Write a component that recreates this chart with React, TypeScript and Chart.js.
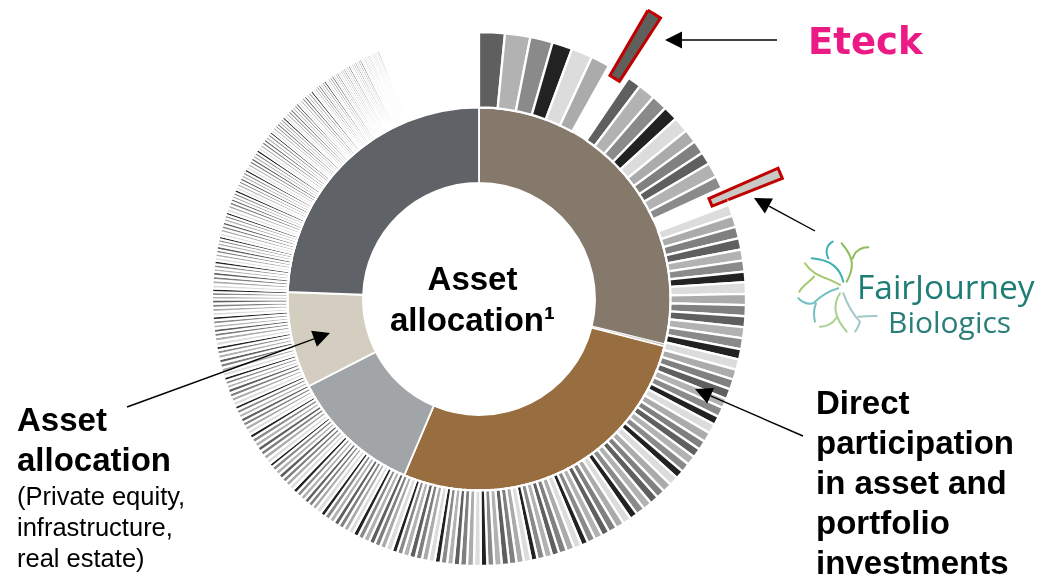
import React, { useEffect, useRef } from "react";
import { Chart, registerables } from "chart.js";

Chart.register(...registerables);

// Inner ring: asset classes, in degrees of the circle.
const assetClasses = ["Direct", "Other", "Income", "Credit", "Private assets", "Listed"];
const assetShares = [103.7, 0.6, 98.7, 39.9, 29.2, 87.9];
const assetColors = ["#85796c", "#a9a196", "#986d3f", "#a2a5a7", "#d3cec0", "#5f6267"];

// Outer ring: individual holdings, largest first, in degrees of the circle.
const holdingsBeforeEteck = [5.6, 5.5, 4.9, 4.4, 4.6, 4.1];
const eteckShare = 4.8;
const eteckMargin = 0.1;
const holdingsBeforeFairJourney = [3.0, 3.7, 3.5, 3.2, 3.4, 3.0, 2.9, 2.7, 3.2, 2.7];
const fairJourneyShare = 3.9;
const holdingsAfterFairJourney = [
  2.5, 2.5, 2.5, 2.5, 2.4, 2.4, 2.3,
  2.5, 2.4, 2.4, 2.4, 2.4, 2.4, 2.2,
  2.3, 2.2, 2.2, 2.2, 2.1, 2.1, 1.9,
  2.1, 2.1, 2.0, 2.0, 2.0, 2.0, 1.8,
  2.0, 2.0, 1.9, 1.9, 1.9, 1.9, 1.7,
  1.8, 1.8, 1.8, 1.7, 1.7, 1.7, 1.5,
  1.7, 1.7, 1.7, 1.6, 1.6, 1.6, 1.4,
  1.6, 1.6, 1.6, 1.6, 1.6, 1.5, 1.4,
  1.5, 1.5, 1.5, 1.4, 1.4, 1.4, 1.3,
  1.4, 1.4, 1.4, 1.4, 1.4, 1.3, 1.2,
  1.4, 1.3, 1.3, 1.3, 1.3, 1.3, 1.2,
  1.2, 1.2, 1.2, 1.2, 1.2, 1.2, 1.1,
  1.2, 1.1, 1.1, 1.1, 1.1, 1.1, 1.1,
  1.1, 1.1, 1.1, 1.1, 1.1, 1.1, 0.9,
  1.1, 1.1, 1.1, 1.1, 1.1, 1.1, 1.0,
  1.0, 1.0, 1.0, 1.0, 1.0, 1.0, 0.9,
  1.0, 1.0, 1.0, 1.0, 0.9, 0.9, 0.9,
  1.0, 1.0, 1.0, 1.0, 1.0, 0.9, 0.9,
  1.0, 1.0, 0.9, 0.9, 0.9, 0.9, 0.9,
  0.9, 0.9, 0.9, 0.9, 0.8, 0.8, 0.8,
  0.9, 0.9, 0.9, 0.9, 0.8, 0.8, 0.8,
  0.8, 0.8, 0.8, 0.8, 0.8, 0.7, 0.7,
  0.8, 0.8, 0.8, 0.8, 0.8, 0.7, 0.7,
  0.8, 0.8, 0.8, 0.7, 0.7, 0.7, 0.7,
  0.7, 0.7, 0.7, 0.7, 0.7, 0.7, 0.7,
  0.7, 0.7, 0.7, 0.7, 0.7, 0.7, 0.7,
  0.7, 0.7, 0.7, 0.7, 0.7, 0.7, 0.6,
  0.6, 0.6, 0.6, 0.6, 0.6, 0.6, 0.6,
  0.6, 0.6, 0.6, 0.6, 0.6, 0.6, 0.5,
  0.6, 0.6, 0.6, 0.6, 0.6, 0.6, 0.6,
  0.5, 0.5, 0.5, 0.5, 0.5, 0.5, 0.5,
  0.5, 0.5, 0.5, 0.5, 0.4, 0.4, 0.4,
  0.5, 0.4, 0.4, 0.4, 0.4, 0.4, 0.4,
  0.4, 0.4, 0.4, 0.4, 0.4, 0.4, 0.4,
  0.3, 0.3, 0.3, 0.3, 0.3, 0.3, 0.3,
  0.3, 0.3, 0.3, 0.3, 0.3, 0.3, 0.3,
];

const holdingGreys = ["#5f5f5f", "#b2b2b2", "#8a8a8a", "#222222", "#dcdcdc", "#ababab", "#808080"];
const eteckColor = "#5f5f5c";
const fairJourneyColor = "#c8c8c4";
const calloutBorder = "#c00000";
const CLEAR = "rgba(0,0,0,0)";

type Slice = { value: number; color: string; offset: number; callout: boolean };

function buildHoldings(): Slice[] {
  const out: Slice[] = [];
  let n = 0;
  const plain = (value: number) => {
    out.push({ value, color: holdingGreys[n % 7], offset: 0, callout: false });
    n += 1;
  };
  const blank = (value: number) => out.push({ value, color: CLEAR, offset: 0, callout: false });
  const callout = (value: number, color: string, offset: number) => {
    out.push({ value, color, offset, callout: true });
    n += 1;
  };
  holdingsBeforeEteck.forEach(plain);
  blank(eteckMargin);
  callout(eteckShare, eteckColor, 141);
  blank(eteckMargin);
  holdingsBeforeFairJourney.forEach(plain);
  callout(fairJourneyShare, fairJourneyColor, 123);
  holdingsAfterFairJourney.forEach(plain);
  // The many tiny positions that close the circle are too small to show.
  blank(360 - out.reduce((s, d) => s + d.value, 0));
  return out;
}

// White separators narrow along with the slices so that the thinnest still show.
const separatorWidth = (share: number) => Math.min(2.3, 0.6 + 1.9 * share);

const FONT = '"Liberation Sans", Arial, sans-serif';

function DonutChart() {
  const ref = useRef<HTMLCanvasElement>(null);
  useEffect(() => {
    const slices = buildHoldings();
    const chart = new Chart(ref.current!, {
      type: "doughnut",
      data: {
        labels: slices.map((_, i) => String(i)),
        datasets: [
          {
            data: slices.map((s) => s.value),
            backgroundColor: slices.map((s) => s.color),
            borderColor: slices.map((s) => (s.callout ? calloutBorder : "#ffffff")),
            borderWidth: slices.map((s) => (s.callout ? 3 : s.color === CLEAR ? 0 : separatorWidth(s.value))),
            offset: slices.map((s) => s.offset),
            hoverOffset: 0,
            borderJoinStyle: "miter",
            clip: false,
          },
          {
            data: assetShares,
            backgroundColor: assetColors,
            borderColor: "#ffffff",
            borderWidth: assetShares.map((v) => (v < 1 ? 0.7 : 1.8)),
            hoverOffset: 0,
            clip: false,
          },
        ],
      } as any,
      options: {
        responsive: false,
        animation: false,
        events: [],
        radius: 267,
        cutout: "43.45%",
        layout: { padding: { left: 213, right: 296, top: 33, bottom: 12 } },
        plugins: { legend: { display: false }, tooltip: { enabled: false } },
      } as any,
    });
    return () => chart.destroy();
  }, []);
  return <canvas ref={ref} width={1041} height={577} style={{ position: "absolute", left: 0, top: 0 }} />;
}

function Arrow({ x1, y1, x2, y2 }: { x1: number; y1: number; x2: number; y2: number }) {
  const a = Math.atan2(y2 - y1, x2 - x1);
  const L = 17;
  const W = 8.5;
  const bx = x2 - L * Math.cos(a);
  const by = y2 - L * Math.sin(a);
  const px = -Math.sin(a) * W;
  const py = Math.cos(a) * W;
  return (
    <g>
      <line x1={x1} y1={y1} x2={bx} y2={by} stroke="#000" strokeWidth={1.4} />
      <polygon points={`${x2},${y2} ${bx + px},${by + py} ${bx - px},${by - py}`} fill="#000" />
    </g>
  );
}

function Label({ left, top, width, size, line, bold, align, color, family, children, spacing }: any) {
  return (
    <div
      style={{
        position: "absolute", left, top, width, fontSize: size, lineHeight: `${line}px`,
        fontWeight: bold ? 700 : 400, textAlign: align || "left", color: color || "#000",
        fontFamily: family || FONT, whiteSpace: "nowrap", letterSpacing: spacing,
      }}
    >
      {children}
    </div>
  );
}

export default function App() {
  return (
    <div style={{ position: "fixed", left: 0, top: 0, width: 1041, height: 577, overflow: "hidden", background: "#fff" }}>
      <DonutChart />
      <svg width={1041} height={577} style={{ position: "absolute", left: 0, top: 0 }}>
        <Arrow x1={777} y1={40} x2={665} y2={40} />
        <Arrow x1={815} y1={231} x2={754} y2={198} />
        <Arrow x1={803} y1={436} x2={695} y2={389} />
        <Arrow x1={127} y1={407} x2={330} y2={333} />
        <g transform="translate(790 10) scale(0.3333)" fill="none" strokeWidth={6} strokeLinecap="round">
          <path d="M160 815 C150 775 125 750 65 745 M115 745 C105 725 110 705 128 695" stroke="#3fb0b4" />
          <path d="M170 815 C195 770 190 740 155 700 M188 745 C195 725 210 712 235 712" stroke="#8fbc5e" />
          <path d="M150 825 C110 800 70 800 45 760 M72 800 C60 815 40 825 28 845" stroke="#a4c86c" />
          <path d="M145 835 C110 845 90 860 70 880 C50 885 35 875 25 865 M78 880 C70 900 70 915 75 935" stroke="#74c0c2" />
          <path d="M150 850 C130 880 130 920 170 965 M138 925 C125 945 110 950 90 950" stroke="#aad190" />
          <path d="M160 850 C175 890 190 915 210 935 C205 950 200 960 195 965 M205 920 C225 918 245 918 260 918" stroke="#a2c8cc" />
        </g>
      </svg>

      <Label left={389} top={258} width={167} size={33} line={41} bold align="center">
        Asset
        <br />
        allocation¹
      </Label>

      <Label left={17} top={400} size={33} line={40} bold>
        Asset
        <br />
        allocation
      </Label>
      <Label left={17} top={481} size={25.5} line={31}>
        (Private equity,
        <br />
        infrastructure,
        <br />
        real estate)
      </Label>

      <Label left={816} top={383} size={33} line={40} bold>
        Direct
        <br />
        participation
        <br />
        in asset and
        <br />
        portfolio
        <br />
        investments
      </Label>

      <Label left={808} top={20} size={37} line={44} bold color="#ec1a85" family='"DejaVu Sans", sans-serif'>
        Eteck
      </Label>
      <Label left={857} top={266} size={33.5} line={40} color="#1e7d74" family='"Open Sans", sans-serif'>
        FairJourney
      </Label>
      <Label left={888} top={302} size={30} line={40} color="#2a7f78" family='"Open Sans", sans-serif'>
        Biologics
      </Label>
    </div>
  );
}
